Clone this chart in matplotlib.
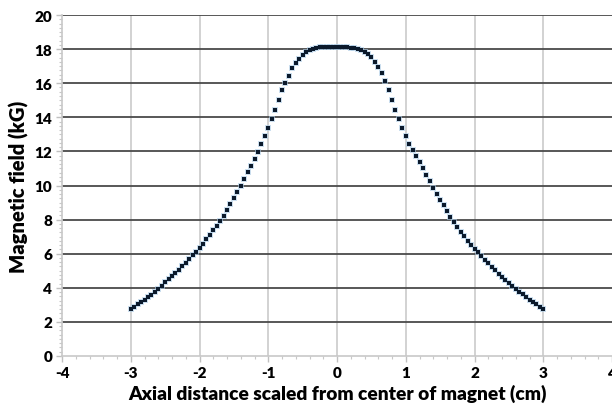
import numpy as np
import matplotlib
matplotlib.use("Agg")
import matplotlib.pyplot as plt
from matplotlib.ticker import MultipleLocator

# Axial positions (cm), step 0.05 from -3 to 3
x_cm = [round(-3 + 0.05 * i, 2) for i in range(121)]

# Magnetic field (kG)
field_kG = [
    2.78, 2.90, 3.03, 3.17, 3.31, 3.45, 3.60, 3.76, 3.92, 4.13,
    4.33, 4.50, 4.68, 4.87, 5.06, 5.26, 5.47, 5.68, 5.90, 6.12,
    6.35, 6.59, 6.84, 7.10, 7.37, 7.65, 7.93, 8.23, 8.55, 8.89,
    9.24, 9.61, 10.00, 10.39, 10.78, 11.17, 11.57, 11.98, 12.42, 12.90,
    13.38, 13.88, 14.42, 15.02, 15.58, 16.02, 16.45, 16.88, 17.17, 17.44,
    17.65, 17.84, 17.95, 18.03, 18.08, 18.11, 18.13, 18.14, 18.14, 18.14,
    18.14, 18.13, 18.12, 18.11, 18.09, 18.05, 18.00, 17.93, 17.84, 17.70,
    17.53, 17.27, 16.93, 16.57, 16.15, 15.60, 15.00, 14.42, 13.88, 13.38,
    12.90, 12.45, 12.10, 11.75, 11.40, 11.02, 10.64, 10.26, 9.88, 9.52,
    9.17, 8.83, 8.50, 8.16, 7.86, 7.57, 7.29, 7.02, 6.76, 6.52,
    6.30, 6.08, 5.86, 5.64, 5.43, 5.22, 5.02, 4.82, 4.63, 4.45,
    4.27, 4.10, 3.93, 3.77, 3.61, 3.46, 3.31, 3.17, 3.03, 2.90,
    2.77,
]

x_ticks = [-4, -3, -2, -1, 0, 1, 2, 3, 4]
y_ticks = [0, 2, 4, 6, 8, 10, 12, 14, 16, 18, 20]

plt.rcParams['font.family'] = ['Lato', 'DejaVu Sans']

fig = plt.figure(figsize=(6.12, 4.06), dpi=100)
ax = fig.add_axes([62 / 612, 49 / 406, 550 / 612, 341 / 406])

ax.set_xlim(-4, 4)
ax.set_ylim(0, 20)
ax.set_xticks(x_ticks)
ax.set_yticks(y_ticks)
ax.set_xticklabels([str(v) for v in x_ticks], fontweight='heavy', fontsize=11)
ax.set_yticklabels([str(v) for v in y_ticks], fontweight='heavy', fontsize=11)
ax.xaxis.set_minor_locator(MultipleLocator(0.2))
ax.yaxis.set_minor_locator(MultipleLocator(0.25))

# grid lines
for yv in y_ticks[1:]:
    ax.axhline(yv, color='#4a4a4a', lw=1.3, zorder=1)
for xv in x_ticks[1:-1]:
    ax.axvline(xv, color='#cfcfcf', lw=1.3, zorder=0.5)

for side in ['top', 'right']:
    ax.spines[side].set_visible(False)
for side in ['left', 'bottom']:
    ax.spines[side].set_color('#c8c8c8')
    ax.spines[side].set_linewidth(1.2)

ax.tick_params(which='major', length=4, width=1, color='#c0c0c0', pad=3)
ax.tick_params(which='minor', length=2.5, width=0.8, color='#c8c8c8')
ax.tick_params(axis='x', which='both', direction='out')
ax.tick_params(axis='y', which='both', direction='out')

# glow + dark square markers
ax.plot(x_cm, field_kG, linestyle='none', marker='s', markersize=4.8,
        color='#a9c9e3', alpha=0.6, markeredgewidth=0, zorder=3)
ax.plot(x_cm, field_kG, linestyle='none', marker='s', markersize=2.9,
        color='#0b1a2c', markeredgewidth=0, zorder=4)

ax.set_xlabel('Axial distance scaled from center of magnet (cm)',
              fontweight='heavy', fontsize=13.8, labelpad=4)
ax.set_ylabel('Magnetic field (kG)', fontweight='heavy', fontsize=14.5, labelpad=4)

fig.savefig('out.png', dpi=100)
